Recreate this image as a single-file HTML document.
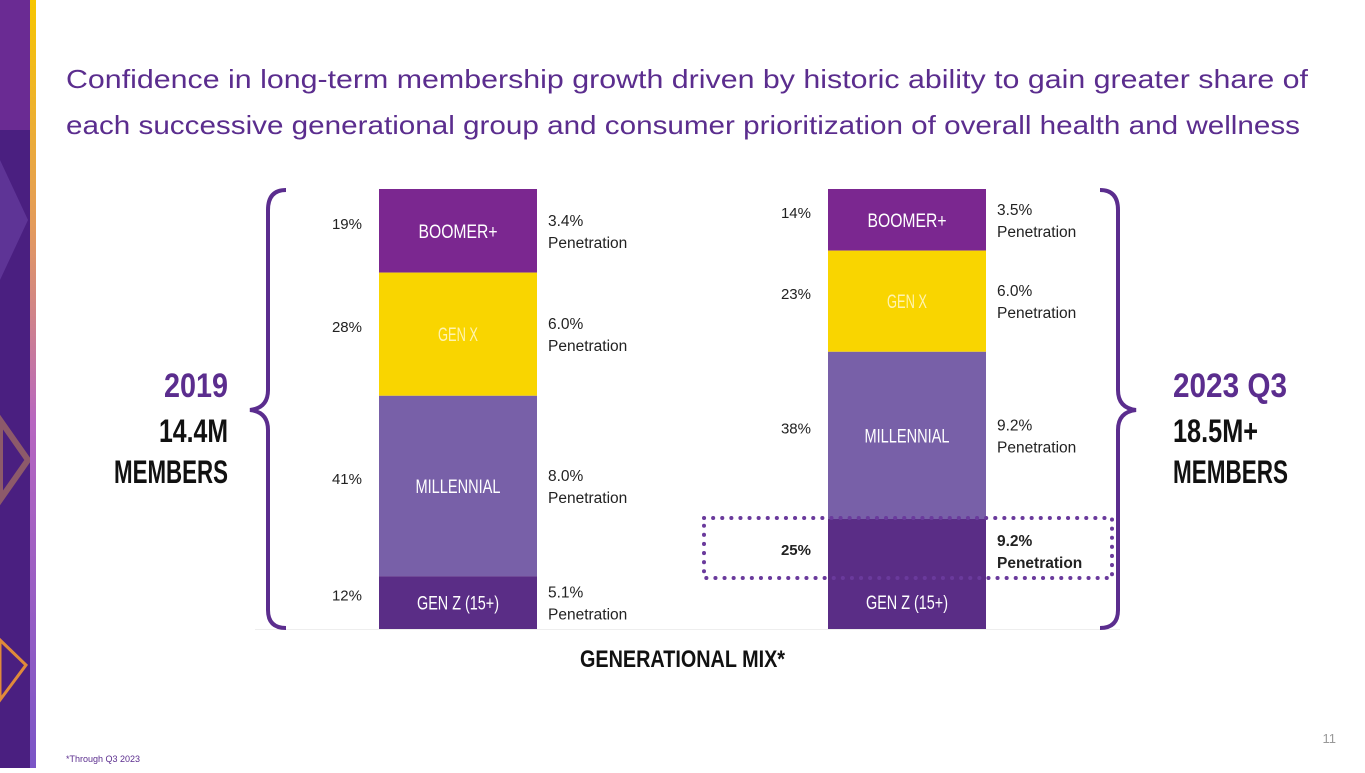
<!DOCTYPE html>
<html><head><meta charset="utf-8"><style>
html,body{margin:0;padding:0;background:#fff;}
body{width:1365px;height:768px;overflow:hidden;position:relative;font-family:"Liberation Sans",sans-serif;}
</style></head><body>
<svg id="chart" width="1365" height="768" viewBox="0 0 1365 768" xmlns="http://www.w3.org/2000/svg">
  <defs>
    <linearGradient id="stripe" x1="0" y1="0" x2="0" y2="1">
      <stop offset="0" stop-color="#f7c600"/><stop offset="0.3" stop-color="#e39a5e"/>
      <stop offset="0.55" stop-color="#b766c0"/><stop offset="1" stop-color="#7a55c6"/>
    </linearGradient>
  </defs>
  <g>
    <rect x="0" y="0" width="30" height="768" fill="#4a1f80"/>
    <rect x="0" y="0" width="30" height="130" fill="#6a2b93"/>
    <polygon points="0,160 28,220 0,280" fill="#5e3496"/>
    <polygon points="0,420 28,460 0,500" fill="none" stroke="#8d5a6a" stroke-width="6"/>
    <polygon points="0,640 26,665 0,700" fill="none" stroke="#e08a3a" stroke-width="3"/>
    <rect x="30" y="0" width="6" height="768" fill="url(#stripe)"/>
  </g>
  <text x="66" y="88" font-family="Liberation Sans" font-size="26" fill="#5b2d8e" textLength="1242" lengthAdjust="spacingAndGlyphs">Confidence in long-term membership growth driven by historic ability to gain greater share of</text>
  <text x="66" y="134" font-family="Liberation Sans" font-size="26" fill="#5b2d8e" textLength="1234" lengthAdjust="spacingAndGlyphs">each successive generational group and consumer prioritization of overall health and wellness</text>
  <line x1="255" y1="629.5" x2="1120" y2="629.5" stroke="#eeeeee" stroke-width="1"/>
  <g id="bars"></g>
  <path d="M286,190 Q268,190 268,210 L268,390 Q268,408 250,410 Q268,412 268,430 L268,610 Q268,628 286,628" fill="none" stroke="#5b2d8e" stroke-width="4"/>
  <path d="M1100,190 Q1118,190 1118,210 L1118,390 Q1118,408 1136,410 Q1118,412 1118,430 L1118,610 Q1118,628 1100,628" fill="none" stroke="#5b2d8e" stroke-width="4"/>
  <g font-family="Liberation Sans" font-weight="bold">
    <text x="164" y="397" font-size="34" fill="#5b2d8e" textLength="64" lengthAdjust="spacingAndGlyphs">2019</text>
    <text x="159" y="442" font-size="32" fill="#111" textLength="69" lengthAdjust="spacingAndGlyphs">14.4M</text>
    <text x="114" y="483" font-size="32" fill="#111" textLength="114" lengthAdjust="spacingAndGlyphs">MEMBERS</text>
    <text x="1173" y="397" font-size="34" fill="#5b2d8e" textLength="114" lengthAdjust="spacingAndGlyphs">2023 Q3</text>
    <text x="1173" y="442" font-size="32" fill="#111" textLength="85" lengthAdjust="spacingAndGlyphs">18.5M+</text>
    <text x="1173" y="483" font-size="32" fill="#111" textLength="115" lengthAdjust="spacingAndGlyphs">MEMBERS</text>
    <text x="580" y="667" font-size="24" fill="#111" textLength="205" lengthAdjust="spacingAndGlyphs">GENERATIONAL MIX*</text>
  </g>
  <text x="66" y="762" font-size="9" fill="#5b2d8e">*Through Q3 2023</text>
  <text x="1336" y="743" text-anchor="end" font-size="13" fill="#999">11</text>
  <rect x="704" y="518" width="408" height="60" fill="none" stroke="#6a3a9c" stroke-width="4" stroke-dasharray="0.1 9" stroke-linecap="round"/>
</svg>
<script>
const segments = ["BOOMER+", "GEN X", "MILLENNIAL", "GEN Z (15+)"];
const share2019 = [19, 28, 41, 12];
const share2023 = [14, 23, 38, 25];
const pen2019 = ["3.4%", "6.0%", "8.0%", "5.1%"];
const pen2023 = ["3.5%", "6.0%", "9.2%", "9.2%"];

const colors = ["#7b2790", "#f9d500", "#7860a8", "#5a2d86"];
const labelColors = ["#ffffff", "#fff3b0", "#ffffff", "#ffffff"];
const labelWidths = [79, 40, 85, 82];
const barTop = 189, barBottom = 629;
const NS = "http://www.w3.org/2000/svg";
const barsG = document.getElementById('bars');
function yScale(cum, total){ return barTop + (barBottom - barTop) * cum / total; }
function mk(tag, attrs, text){
  const e = document.createElementNS(NS, tag);
  for (const k in attrs) e.setAttribute(k, attrs[k]);
  if (text !== undefined) e.textContent = text;
  barsG.appendChild(e); return e;
}
function drawBar(values, pens, x0, w, key, boldLast){
  const total = values.reduce((a,b)=>a+b,0);
  let cum = 0;
  values.forEach((v,i)=>{
    const y0 = yScale(cum, total), y1 = yScale(cum+v, total);
    cum += v;
    const r = mk('rect',{x:x0,y:y0,width:w,height:y1-y0,fill:colors[i]});
    
    
    const mid = (y0+y1)/2;
    const genzBox = (boldLast && i===3);
    const segY = genzBox ? y1 - 20 : mid + 7;
    const lbl = mk('text',{x:x0+w/2-labelWidths[i]/2,y:segY,'font-size':19,fill:labelColors[i],textLength:labelWidths[i],lengthAdjust:'spacingAndGlyphs'}, segments[i]);
    
    
    const ly = genzBox ? 555 : mid - 2;
    const pct = mk('text',{x:x0-17,y:ly,'text-anchor':'end','font-size':15,fill:'#222','font-weight':genzBox?'bold':'normal'}, v + '%');
    
    
    const py = genzBox ? 546 : mid - 5;
    const p1 = mk('text',{x:x0+w+11,y:py,'font-size':15.5,fill:'#222','font-weight':genzBox?'bold':'normal'}, pens[i]);
    
    
    const p2 = mk('text',{x:x0+w+11,y:py+22,'font-size':15.5,fill:'#222','font-weight':genzBox?'bold':'normal'}, 'Penetration');
    
    
  });
}
drawBar(share2019, pen2019, 379, 158, '2019', false);
drawBar(share2023, pen2023, 828, 158, '2023', true);
</script>
</body></html>
